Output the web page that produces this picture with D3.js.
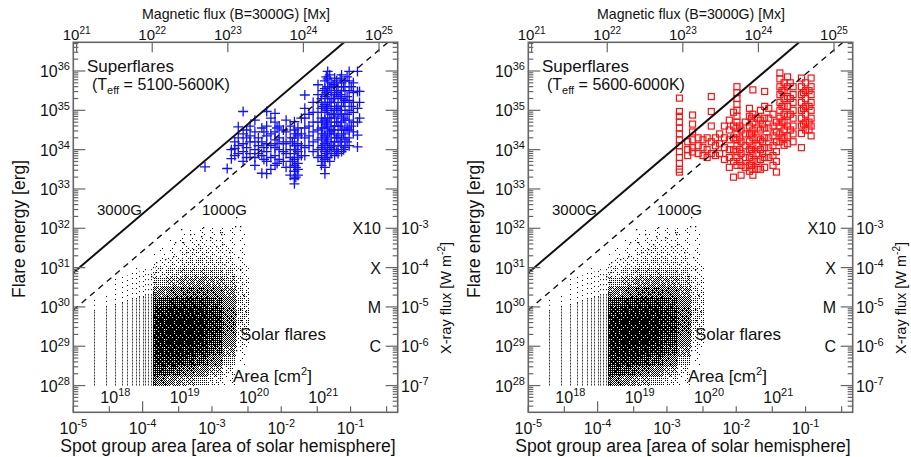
<!DOCTYPE html>
<html>
<head>
<meta charset="utf-8">
<script src="https://cdn.jsdelivr.net/npm/d3@7"></script>
<style>
body { margin: 0; background: #fff; }
text { font-family: "Liberation Sans", Arial, sans-serif; fill: #111; }
</style>
</head>
<body>
<script>
// ---- data (log10 values) ----

// solar flares: discrete spot areas (n x 1e-5 hemisphere) appear as vertical stripes
const stripeN = [2, 3, 4, 5, 6, 7, 8, 9, 10, 11, 12, 13, 14, 15];
const stripeDenseTop = [29.9, 30.0, 30.05, 30.1, 30.15, 30.2, 30.2, 30.25, 30.25, 30.3, 30.3, 30.3, 30.35, 30.35];
const stripeSparseTop = [30.25, 30.35, 30.8, 30.85, 30.8, 30.9, 31.0, 30.9, 31.0, 31.0, 30.9, 31.05, 31.1, 31.0];

// solar flares: point density of the main cloud (cells 0.2 dex in area x 0.25 dex in energy)
const cloudAreaBins = [-3.85, -3.65, -3.45, -3.25, -3.05, -2.85, -2.65];
const cloudEnergyBins = [31.75, 31.5, 31.25, 31.0, 30.75, 30.5, 30.25, 30.0, 29.75, 29.5, 29.25, 29.0, 28.75, 28.5, 28.25, 28.0];
const cloudDensity = [
  [0, 0, 0.02, 0.04, 0.04, 0.04, 0.02],
  [0, 0.02, 0.05, 0.07, 0.07, 0.05, 0.03],
  [0.03, 0.05, 0.1, 0.12, 0.1, 0.08, 0.04],
  [0.06, 0.1, 0.16, 0.18, 0.16, 0.12, 0.06],
  [0.12, 0.2, 0.28, 0.3, 0.26, 0.2, 0.08],
  [0.25, 0.35, 0.42, 0.45, 0.4, 0.3, 0.12],
  [0.45, 0.55, 0.62, 0.62, 0.55, 0.42, 0.15],
  [0.72, 0.8, 0.83, 0.8, 0.7, 0.5, 0.18],
  [0.85, 0.9, 0.9, 0.88, 0.8, 0.58, 0.2],
  [0.9, 0.93, 0.93, 0.91, 0.83, 0.6, 0.18],
  [0.9, 0.93, 0.93, 0.91, 0.83, 0.58, 0.15],
  [0.9, 0.93, 0.93, 0.88, 0.78, 0.5, 0.1],
  [0.88, 0.9, 0.88, 0.83, 0.68, 0.4, 0.06],
  [0.85, 0.85, 0.8, 0.7, 0.53, 0.25, 0.03],
  [0.78, 0.7, 0.58, 0.48, 0.33, 0.12, 0],
  [0.55, 0.45, 0.35, 0.25, 0.15, 0.05, 0]
];

// solar flares: isolated points around the cloud [logA, logE]
const solarOutliers = [
  [-2.65, 32.28], [-2.67, 32.07], [-3.44, 31.98], [-3.32, 31.85], [-3.16, 31.81], [-3.03, 31.77],
  [-2.87, 31.85], [-3.42, 31.64], [-3.80, 31.13], [-3.68, 31.21], [-3.88, 30.79], [-3.56, 31.3],
  [-3.37, 31.39], [-3.28, 31.47], [-3.08, 31.3], [-2.94, 31.56], [-2.75, 31.39], [-2.63, 31.26],
  [-2.60, 30.96], [-3.20, 31.6], [-2.82, 31.09], [-2.70, 30.79], [-2.60, 29.94], [-2.58, 29.68],
  [-2.65, 28.91], [-3.13, 32.03], [-2.89, 31.9], [-2.86, 31.6], [-2.60, 32.07], [-3.53, 31.64],
  [-2.55, 30.3], [-2.52, 29.9], [-2.57, 29.3]
];

// superflares, Teff 5100-5600K: log area per star column and its log energies
const blueArea = [-3.10, -2.78, -2.72, -2.67, -2.62, -2.55, -2.50, -2.45, -2.38, -2.33, -2.28, -2.25, -2.21, -2.15, -2.09,
  -2.06, -2.03, -1.97, -1.93, -1.87, -1.84, -1.81, -1.79, -1.76, -1.71, -1.66, -1.60, -1.54, -1.47, -1.42, -1.40,
  -1.37, -1.35, -1.33, -1.30, -1.28, -1.25, -1.23, -1.20, -1.18, -1.15, -1.13, -1.10, -1.08, -1.05, -1.02,
  -0.99, -0.96, -0.90, -0.87];
const blueEnergy = [
  [33.56], [33.52], [33.77, 34.0], [34.03, 33.85, 34.2], [34.58, 34.3, 34.1, 33.9],
  [34.97, 34.4, 34.15, 33.95, 33.7], [34.3, 34.05, 33.8, 34.5], [34.6, 34.2, 33.9, 34.35],
  [34.75, 34.45, 34.2, 34.0, 33.8, 33.6], [34.3, 34.1, 33.9], [34.55, 34.2, 33.85, 33.4],
  [34.45, 34.05, 33.75],
  [34.97, 34.6, 34.35, 34.15, 33.95, 33.7, 33.39], [34.8, 34.4, 34.1, 33.8, 33.5],
  [34.92, 34.7, 34.45, 34.25, 34.05, 33.85, 33.6], [34.55, 34.15, 33.65],
  [34.6, 34.3, 34.0, 33.75], [34.5, 34.2, 33.95, 33.7],
  [34.75, 34.45, 34.15, 33.9, 33.55], [34.6, 34.3, 34.0, 33.8, 33.55, 33.35], [34.2, 33.7],
  [34.71, 34.5, 34.3, 34.1, 33.9, 33.75, 33.6, 33.45, 33.26, 33.13], [34.4, 34.0, 33.55, 33.3],
  [34.55, 34.35, 34.15, 33.95, 33.8, 33.65, 33.5, 33.35], [34.8, 34.4, 34.1, 33.85],
  [35.39, 35.05, 34.8, 34.55, 34.3, 34.05, 33.85], [34.9, 34.6, 34.35, 34.1],
  [35.2, 34.95, 34.7, 34.45, 34.2, 33.95], [35.65, 35.4, 35.2, 34.95, 34.7, 34.5, 34.25, 34.0, 33.8],
  [35.3, 35.05, 34.8, 34.55, 34.3, 34.05, 33.85, 33.6], [35.5, 35.1, 34.7, 34.4, 34.1, 33.7],
  [35.75, 35.55, 35.35, 35.15, 34.95, 34.75, 34.55, 34.35, 34.15, 33.95, 33.75, 33.55, 33.39],
  [35.85, 35.45, 35.05, 34.65, 34.25, 33.9],
  [35.99, 35.8, 35.6, 35.4, 35.2, 35.0, 34.8, 34.6, 34.4, 34.2, 34.0, 33.8],
  [35.9, 35.6, 35.2, 34.8, 34.45, 34.05, 33.7],
  [35.7, 35.5, 35.3, 35.1, 34.9, 34.7, 34.5, 34.3, 34.1, 33.9], [35.65, 35.3, 34.9, 34.5, 34.1],
  [35.82, 35.6, 35.4, 35.2, 35.0, 34.8, 34.6, 34.4, 34.2, 34.0, 33.85], [35.75, 35.45, 35.05, 34.7, 34.3, 33.95],
  [35.6, 35.35, 35.1, 34.85, 34.6, 34.35, 34.1, 33.9], [35.8, 35.4, 35.0, 34.6, 34.2],
  [35.9, 35.7, 35.5, 35.3, 35.1, 34.9, 34.7, 34.5, 34.3, 34.1, 33.95], [35.6, 35.2, 34.8, 34.4, 34.0],
  [35.75, 35.5, 35.25, 35.0, 34.75, 34.5, 34.25, 34.05], [35.85, 35.35, 34.9, 34.55, 34.2],
  [35.99, 35.75, 35.5, 35.25, 35.0, 34.75, 34.5, 34.3, 34.1], [35.6, 35.1, 34.6],
  [35.7, 35.45, 35.2, 34.95, 34.7, 34.45], [35.99, 35.48, 35.05, 34.7, 34.37, 34.07], [35.48, 35.2, 34.8]
];

// superflares, Teff 5600-6000K
const redArea = [-2.82, -2.70, -2.63, -2.55, -2.48, -2.42, -2.36, -2.30, -2.24, -2.17, -2.10, -2.04, -1.99,
  -1.95, -1.93, -1.87, -1.81, -1.78, -1.76, -1.70, -1.65, -1.62, -1.59, -1.53, -1.47, -1.42, -1.37, -1.34,
  -1.31, -1.26, -1.22, -1.18, -1.06, -1.03, -1.00, -0.95, -0.92];
const redEnergy = [
  [35.31, 34.97, 34.85, 34.7, 34.55, 34.4, 34.25, 34.1, 33.95, 33.8, 33.65, 33.5, 33.43],
  [34.2, 34.0, 33.85], [34.88, 34.65, 34.45, 34.25, 34.05, 33.94], [34.3, 34.1, 33.9],
  [34.05, 33.85, 34.25], [34.3, 34.0, 33.8], [35.35, 34.97, 34.6, 34.2, 33.9], [34.1, 33.85, 34.3],
  [34.4, 34.15, 33.9], [34.6, 34.3, 34.05, 33.75], [34.75, 34.5, 34.25, 34.0, 33.8, 33.55],
  [34.95, 34.6, 34.3, 34.0, 33.7, 33.3],
  [35.6, 35.45, 35.3, 35.15, 35.0, 34.85, 34.7, 34.55, 34.4, 34.25, 34.1, 33.95, 33.8, 33.6],
  [34.6, 34.3, 34.0, 33.7],
  [34.5, 34.2, 33.9, 33.6, 33.35], [34.7, 34.4, 34.1, 33.8, 33.55],
  [35.05, 34.85, 34.6, 34.4, 34.2, 34.0, 33.8, 33.6, 33.45], [34.8, 34.4, 34.0, 33.6],
  [35.52, 34.9, 34.7, 34.5, 34.3, 34.1, 33.9, 33.7, 33.5, 33.35],
  [34.8, 34.55, 34.3, 34.1, 33.9, 33.7, 33.5], [35.0, 34.75, 34.5, 34.25, 34.0, 33.75, 33.5],
  [34.65, 34.2, 33.9],
  [35.48, 35.1, 34.8, 34.55, 34.3, 34.05, 33.8, 33.55], [35.05, 34.8, 34.55, 34.3, 34.05, 33.8],
  [34.9, 34.6, 34.35, 34.1, 33.85, 33.6], [34.7, 34.45, 34.2, 33.95, 33.7, 33.43],
  [35.95, 35.8, 35.6, 35.4, 35.2, 35.0, 34.8, 34.6, 34.4, 34.2], [35.5, 35.1, 34.7, 34.3],
  [35.7, 35.5, 35.3, 35.1, 34.9, 34.7, 34.5, 34.3, 34.11],
  [35.85, 35.6, 35.35, 35.1, 34.85, 34.6, 34.35, 34.15], [35.7, 35.3, 34.9, 34.5],
  [35.6, 35.4, 35.2, 35.0, 34.8, 34.6, 34.4, 34.2],
  [35.82, 35.6, 35.4, 35.2, 35.0, 34.8, 34.6, 34.41, 34.05], [35.45, 35.05, 34.65],
  [35.7, 35.5, 35.3, 35.1, 34.9, 34.7, 34.5], [35.5, 35.1, 34.7, 34.5],
  [35.82, 35.6, 35.4, 35.2, 35.0, 34.8, 34.6, 34.35]
];

// field-strength lines: log E at A = 1e-5, E ~ A^1.5
const fieldLabels = ["3000G", "1000G"];
const fieldLogE0 = [30.87, 29.92];

// axis ticks
const areaTicks = [-5, -4, -3, -2, -1];
const energyTicks = [28, 29, 30, 31, 32, 33, 34, 35, 36];
const fluxTicks = [21, 22, 23, 24, 25];
const cm2Ticks = [18, 19, 20, 21, 22];
const cm2Labels = [18, 19, 20, 21];
const xrayExp = [-7, -6, -5, -4, -3];
const goesClass = ["C", "M", "X", "X10"];
const tempLabels = ["5100-5600K", "5600-6000K"];

// ---- drawing ----
const W = 911, H = 457;
const svg = d3.select("body").append("svg").attr("width", W).attr("height", H);
const p10 = v => Math.pow(10, v);
const frameCol = "#666";

const plot = { x0: 73.3, x1: 397.7, y0: 42.3, y1: 412.3 };

// stipple patterns (10x10 threshold tile) for the solar-flare point cloud
const t5 = [[0, 12, 20, 6, 17], [15, 3, 23, 10, 8], [21, 9, 1, 18, 13], [5, 19, 14, 4, 24], [11, 2, 16, 22, 7]];
const b2 = [[0, 2], [3, 1]];
const defs = svg.append("defs");
const made = new Set();
function stipple(k) {
  if (!made.has(k)) {
    made.add(k);
    const p = defs.append("pattern").attr("id", "stip" + k)
      .attr("patternUnits", "userSpaceOnUse").attr("width", 10).attr("height", 10);
    for (let j = 0; j < 10; j++) for (let i = 0; i < 10; i++) {
      const t = t5[j >> 1][i >> 1] + 25 * b2[j % 2][i % 2];
      if (t < k) p.append("rect").attr("x", i).attr("y", j).attr("width", 1).attr("height", 1).attr("fill", "#000");
    }
  }
  return `url(#stip${k})`;
}

function powText(g, x, y, base, exp, anchor, fs, sfs) {
  const t = g.append("text").attr("x", x).attr("y", y).attr("text-anchor", anchor).style("font-size", fs + "px");
  t.append("tspan").text(base);
  t.append("tspan").attr("dy", -fs * 0.42).style("font-size", sfs + "px").text(exp);
  return t;
}

function drawPanel(dx, idx) {
  const g = svg.append("g").attr("transform", `translate(${dx},0)`);
  const x = d3.scaleLog().domain([1e-5, p10(-0.32)]).range([plot.x0, plot.x1]);
  const y = d3.scaleLog().domain([p10(27.32), p10(36.73)]).range([plot.y1, plot.y0]);
  const xFlux = d3.scaleLog().domain([p10(20.956), p10(25.247)]).range([plot.x0, plot.x1]);
  const xCm2 = d3.scaleLog().domain([p10(17.48), p10(22.16)]).range([plot.x0, plot.x1]);

  const clipId = "clip" + idx;
  g.append("clipPath").attr("id", clipId).append("rect")
    .attr("x", plot.x0).attr("y", plot.y0).attr("width", plot.x1 - plot.x0).attr("height", plot.y1 - plot.y0);
  const inner = g.append("g").attr("clip-path", `url(#${clipId})`);

  // solar cloud cells
  cloudEnergyBins.forEach((e0, r) => {
    cloudAreaBins.forEach((a0, c) => {
      const k = Math.round(cloudDensity[r][c] * 100);
      if (k <= 0) return;
      const xa = Math.round(x(p10(a0))), xb = Math.round(x(p10(a0 + 0.2)));
      const ya = Math.round(y(p10(e0 + 0.25))), yb = Math.round(y(p10(e0)));
      inner.append("rect").attr("x", xa).attr("y", ya).attr("width", xb - xa).attr("height", yb - ya)
        .attr("fill", stipple(k));
    });
  });

  // solar stripes
  stripeN.forEach((n, i) => {
    const xs = Math.round(x(n * 1e-5)) + 0.5;
    inner.append("line").attr("x1", xs).attr("x2", xs)
      .attr("y1", y(1e28)).attr("y2", y(p10(stripeDenseTop[i])))
      .attr("stroke", "#000").attr("stroke-width", 1).attr("stroke-dasharray", "2,1").attr("stroke-opacity", 0.75);
    inner.append("line").attr("x1", xs).attr("x2", xs)
      .attr("y1", y(p10(stripeDenseTop[i]))).attr("y2", y(p10(stripeSparseTop[i])))
      .attr("stroke", "#000").attr("stroke-width", 1).attr("stroke-dasharray", "1,4");
  });

  inner.selectAll(".out").data(solarOutliers).enter().append("rect")
    .attr("x", d => Math.round(x(p10(d[0])))).attr("y", d => Math.round(y(p10(d[1]))))
    .attr("width", 1.3).attr("height", 1.3).attr("fill", "#000");

  // superflares
  const area = idx === 0 ? blueArea : redArea;
  const energy = idx === 0 ? blueEnergy : redEnergy;
  const pts = area.flatMap((a, i) => energy[i].map(e => [p10(a), p10(e)]));
  if (idx === 0) {
    inner.selectAll(".sf").data(pts).enter().append("path")
      .attr("d", d => `M${x(d[0]) - 5},${y(d[1])}h10M${x(d[0])},${y(d[1]) - 5}v10`)
      .attr("stroke", "#1010ff").attr("stroke-width", 1.3).attr("fill", "none");
  } else {
    inner.selectAll(".sf").data(pts).enter().append("rect")
      .attr("x", d => x(d[0]) - 3).attr("y", d => y(d[1]) - 3).attr("width", 6).attr("height", 6)
      .attr("stroke", "#ff1010").attr("stroke-width", 1.2).attr("fill", "none");
  }

  // field lines
  const line = d3.line().x(d => x(d[0])).y(d => y(d[1]));
  fieldLogE0.forEach((e0, i) => {
    const ends = [[1e-5, p10(e0)], [p10(-0.32), p10(e0 + 1.5 * 4.68)]];
    inner.append("path").attr("d", line(ends)).attr("fill", "none").attr("stroke", "#111")
      .attr("stroke-width", i === 0 ? 2 : 1.4).attr("stroke-dasharray", i === 0 ? null : "6,5");
  });
  g.append("text").attr("x", 97).attr("y", 215).style("font-size", "15px").text(fieldLabels[0]);
  g.append("text").attr("x", 202).attr("y", 215).style("font-size", "15px").text(fieldLabels[1]);

  // annotations
  g.append("text").attr("x", 87).attr("y", 72).style("font-size", "17px").text("Superflares");
  const tt = g.append("text").attr("x", 92).attr("y", 90).style("font-size", "16px");
  tt.append("tspan").text("(T");
  tt.append("tspan").attr("dy", 4).style("font-size", "11px").text("eff");
  tt.append("tspan").attr("dy", -4).text(" = " + tempLabels[idx] + ")");
  g.append("text").attr("x", 240).attr("y", 340).style("font-size", "17px").text("Solar flares");
  const at = g.append("text").attr("x", 233).attr("y", 382).style("font-size", "17px");
  at.append("tspan").text("Area [cm");
  at.append("tspan").attr("dy", -7).style("font-size", "11px").text("2");
  at.append("tspan").attr("dy", 7).text("]");

  // frame
  g.append("rect").attr("x", plot.x0).attr("y", plot.y0).attr("width", plot.x1 - plot.x0).attr("height", plot.y1 - plot.y0)
    .attr("fill", "none").attr("stroke", frameCol).attr("stroke-width", 1.6);

  const ticks = g.append("g").attr("stroke", frameCol).attr("stroke-width", 1.2);
  // y ticks, both sides
  for (let d = 27; d <= 36; d++) {
    for (let m = 1; m <= 9; m++) {
      const v = m * p10(d);
      if (v < y.domain()[0] || v > y.domain()[1]) continue;
      const len = m === 1 ? 12 : 5;
      const yy = y(v);
      ticks.append("line").attr("x1", plot.x0).attr("x2", plot.x0 + len).attr("y1", yy).attr("y2", yy);
      ticks.append("line").attr("x1", plot.x1).attr("x2", plot.x1 - len).attr("y1", yy).attr("y2", yy);
    }
  }
  // bottom ticks: hemisphere fraction and cm^2; top ticks: flux
  areaTicks.forEach(a => {
    const xx = x(p10(a));
    ticks.append("line").attr("x1", xx).attr("x2", xx).attr("y1", plot.y1).attr("y2", plot.y1 - (a === -4 ? 11 : 6));
  });
  cm2Ticks.forEach(c => {
    const xx = xCm2(p10(c));
    ticks.append("line").attr("x1", xx).attr("x2", xx).attr("y1", plot.y1).attr("y2", plot.y1 - 6);
  });
  fluxTicks.forEach(f => {
    const xx = xFlux(p10(f));
    ticks.append("line").attr("x1", xx).attr("x2", xx).attr("y1", plot.y0).attr("y2", plot.y0 + 10);
  });

  // tick labels
  energyTicks.forEach(e => powText(g, 70, y(p10(e)) + 6, "10", String(e), "end", 16, 11));
  areaTicks.forEach(a => powText(g, x(p10(a)), 434, "10", "-" + (-a), "middle", 16, 11));
  fluxTicks.forEach(f => powText(g, xFlux(p10(f)), 40, "10", String(f), "middle", 15, 10));
  cm2Labels.forEach(c => powText(g, xCm2(p10(c)) - 9, 403, "10", String(c), "start", 16, 11));
  xrayExp.forEach((xe, i) => powText(g, 401, y(p10(28 + i)) + 6, "10", String(xe), "start", 16, 11));
  goesClass.forEach((c, i) => g.append("text").attr("x", 381).attr("y", y(p10(29 + i)) + 6)
    .attr("text-anchor", "end").style("font-size", "16px").text(c));

  // axis titles
  g.append("text").attr("x", 228).attr("y", 452).attr("text-anchor", "middle").style("font-size", "17.6px")
    .text("Spot group area [area of solar hemisphere]");
  g.append("text").attr("x", 236).attr("y", 19).attr("text-anchor", "middle").style("font-size", "14.2px")
    .text("Magnetic flux (B=3000G) [Mx]");
  g.append("text").attr("transform", "translate(25,229) rotate(-90)").attr("text-anchor", "middle")
    .style("font-size", "17.5px").text("Flare energy [erg]");
  const xr = g.append("text").attr("transform", "translate(451,298) rotate(-90)").attr("text-anchor", "middle")
    .style("font-size", "14.5px");
  xr.append("tspan").text("X-ray flux [W m");
  xr.append("tspan").attr("dy", -6).style("font-size", "10px").text("-2");
  xr.append("tspan").attr("dy", 6).text("]");
}

drawPanel(0, 0);
drawPanel(455, 1);
</script>
</body>
</html>
